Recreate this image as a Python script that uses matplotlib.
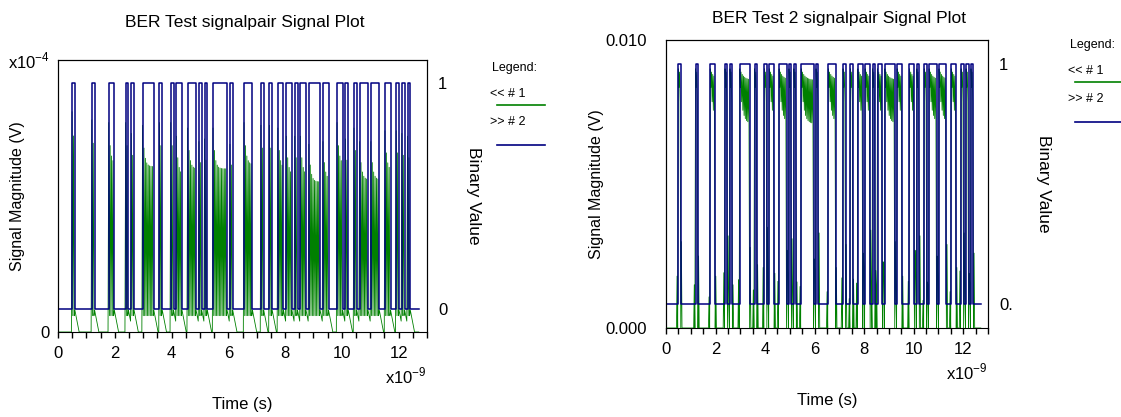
import numpy as np
import matplotlib.pyplot as plt
from matplotlib.lines import Line2D
from matplotlib.ticker import MultipleLocator

plt.rcParams['font.family'] = ['Liberation Sans', 'DejaVu Sans']
plt.rcParams['font.size'] = 11

# bit stream of the blue trace (same PRBS pattern in both plots)
BITS = ("00000" "1"
        "0000001" "0000011" "0000101" "0001111" "0010001" "0110011"
        "1010100" "1111101" "0000111" "0001001" "0011011" "0101101"
        "1110110" "0011010" "0101110" "1110011" "0010101"
        "0" "00")
BIT_PERIOD_NS = 0.0993
SPB = 4  # samples per bit of the green trace

# first peak of the green trace for every run of ones (left plot, x1e-4 V)
LEFT_PEAKS = [0.81, 0.78, 0.77, 0.77, 0.73, 0.76, 0.77, 0.77, 0.72, 0.75, 0.70, 0.71,
              0.75, 0.69, 0.77, 0.76, 0.76, 0.75, 0.72, 0.72, 0.72, 0.69, 0.70, 0.77,
              0.71, 0.75, 0.70, 0.70, 0.74, 0.74, 0.73, 0.72]
# small green spikes next to each pulse (right plot, V)
RIGHT_SPIKES = [0.0030, 0.0025, 0.0018, 0.0032, 0.0015, 0.0028, 0.0022, 0.0035,
                0.0019, 0.0027, 0.0031, 0.0016, 0.0024, 0.0033, 0.0021, 0.0029,
                0.0017, 0.0026, 0.0034, 0.0020, 0.0023, 0.0030, 0.0018, 0.0027,
                0.0032, 0.0016, 0.0025, 0.0029, 0.0021, 0.0033, 0.0019, 0.0026]

W, H = 1121, 417
GREEN = '#008000'
BLUE = '#000080'


def fx(x):
    return x / W


def fy(y):
    return 1 - y / H


bits = np.array([int(c) for c in BITS])

# find runs of ones
runs = []
i = 0
while i < len(bits):
    if bits[i]:
        j = i
        while j < len(bits) and bits[j]:
            j += 1
        runs.append((i, j))
        i = j
    else:
        i += 1

n = len(bits) * SPB + 1
dt = BIT_PERIOD_NS / SPB
t = np.arange(n) * dt
high = np.append(np.repeat(bits, SPB), 0)

# left green trace: ringing while high, slow slide back to zero
g1 = np.zeros(n)
for (a, b), pk in zip(runs, LEFT_PEAKS):
    s0, s1 = a * SPB, b * SPB
    for m in range(s1 - s0):
        if m % 2 == 0:
            g1[s0 + m] = pk * (0.8 + 0.2 * np.exp(-m / 2.5))
        else:
            g1[s0 + m] = 0.06
    for q in range(7):
        k = s1 + q
        if k < n and not high[k]:
            g1[k] = 0.08 * (1 - q / 6)

# right green trace: stays near the top while high
g2 = np.zeros(n)
for (a, b), sp in zip(runs, RIGHT_SPIKES):
    s0, s1 = a * SPB, b * SPB
    for m in range(s1 - s0):
        if m % 2 == 0:
            g2[s0 + m] = 0.0090 - 0.0004 * (1 - np.exp(-m / 6))
        else:
            g2[s0 + m] = 0.0071 + 0.0016 * np.exp(-m / 4)
    k = s1 + 1
    if k < n and not high[k]:
        g2[k] = sp
    k = s0 - 2
    if k >= 0 and not high[k]:
        g2[k] = max(g2[k], sp * 0.6)

edges = np.arange(len(bits) + 1) * BIT_PERIOD_NS
levels = np.append(bits, bits[-1])

fig = plt.figure(figsize=(W / 100, H / 100), dpi=100)


def make_panel(box, green, gmax, ylabels, binlabels, lpad, title_x, title_y, title,
               xlab_y, ylab_x, bin_x, legend_xy):
    ax = fig.add_axes(box)
    ax.plot(t, green, color=GREEN, lw=0.6, zorder=3)
    ax.set_xlim(0, 13)
    ax.set_ylim(0, gmax)
    ax.set_xticks(range(0, 13, 2))
    ax.xaxis.set_minor_locator(MultipleLocator(0.5))
    ax.tick_params(axis='x', which='both', direction='out', length=4, pad=6,
                   width=1, labelsize=12)
    ax.set_yticks([0, gmax])
    ax.set_yticklabels(ylabels)
    ax.tick_params(axis='y', length=0, pad=lpad, labelsize=12)

    ax2 = ax.twinx()
    ax2.step(edges, levels, where='post', color=BLUE, lw=1.1)
    ax2.set_ylim(-0.1, 1.1)
    ax2.set_yticks([1, 0])
    ax2.set_yticklabels(binlabels)
    ax2.tick_params(axis='y', length=0, pad=8, labelsize=12)
    ax2.spines['bottom'].set_visible(False)

    fig.text(fx(title_x), fy(title_y), title, ha='center', va='center', fontsize=12.5)
    fig.text(fx(box[0] * W + box[2] * W / 2), fy(xlab_y), 'Time (s)',
             ha='center', va='center', fontsize=12)
    fig.text(fx(box[0] * W + box[2] * W), fy(xlab_y - 29), 'x10$^{\\mathregular{-9}}$',
             ha='right', va='center', fontsize=12)
    ymid = (1 - box[1] - box[3] / 2) * H
    fig.text(fx(ylab_x), fy(ymid), 'Signal Magnitude (V)', rotation=90,
             ha='center', va='center', fontsize=11.5)
    fig.text(fx(bin_x), fy(ymid), 'Binary Value', rotation=270,
             ha='center', va='center', fontsize=12.5)

    lx, ly = legend_xy
    fig.text(fx(lx + 2), fy(ly), 'Legend:', ha='left', va='center', fontsize=9)
    fig.text(fx(lx), fy(ly + 26), '<< # 1', ha='left', va='center', fontsize=9)
    fig.add_artist(Line2D([fx(lx + 7), fx(lx + 55)], [fy(ly + 37), fy(ly + 37)],
                          color=GREEN, lw=1.2, transform=fig.transFigure))
    fig.text(fx(lx), fy(ly + 54), '>> # 2', ha='left', va='center', fontsize=9)
    fig.add_artist(Line2D([fx(lx + 7), fx(lx + 55)], [fy(ly + 77), fy(ly + 77)],
                          color=BLUE, lw=1.2, transform=fig.transFigure))
    return ax


# left plot, values in units of 1e-4 V
make_panel([58 / W, (H - 332) / H, 369 / W, 272 / H], g1, 1.0,
           ['0', 'x10$^{\\mathregular{-4}}$'], ['1', '0'], 6,
           245, 22, 'BER Test signalpair Signal Plot',
           405, 18, 474, (490, 68))

make_panel([666 / W, (H - 328) / H, 322 / W, 288 / H], g2, 0.010,
           ['0.000', '0.010'], ['1', '0.'], 14,
           839, 18, 'BER Test 2 signalpair Signal Plot',
           401, 597, 1043, (1068, 45))

fig.savefig('out.png', dpi=100)
